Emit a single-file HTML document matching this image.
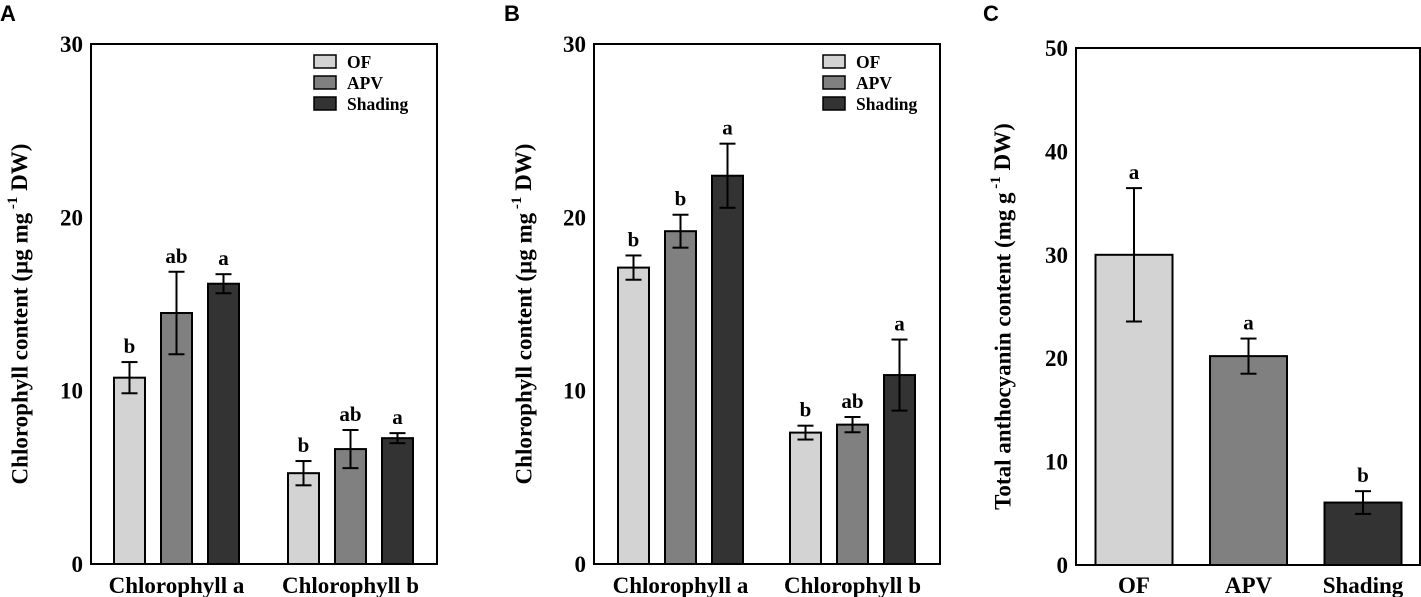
<!DOCTYPE html>
<html><head><meta charset="utf-8">
<style>
html,body{margin:0;padding:0;background:#fff;}
svg{display:block;font-family:"Liberation Serif",serif;font-weight:bold;}
.pl{font-family:"Liberation Sans",sans-serif;font-weight:bold;font-size:22px;}
</style></head>
<body>
<svg id="fig" width="1421" height="597" viewBox="0 0 1421 597"></svg>
<script>
// Panel A data
const aCategories = ["Chlorophyll a", "Chlorophyll b"];
const aOF = [10.75, 5.24];
const aOFerr = [0.9, 0.7];
const aAPV = [14.48, 6.63];
const aAPVerr = [2.38, 1.1];
const aShading = [16.17, 7.26];
const aShadingerr = [0.55, 0.29];
const aLetters = [["b","ab","a"],["b","ab","a"]];
// Panel B data
const bCategories = ["Chlorophyll a", "Chlorophyll b"];
const bOF = [17.1, 7.58];
const bOFerr = [0.7, 0.4];
const bAPV = [19.2, 8.04];
const bAPVerr = [0.95, 0.44];
const bShading = [22.4, 10.9];
const bShadingerr = [1.85, 2.05];
const bLetters = [["b","b","a"],["b","ab","a"]];
// Panel C data
const cCategories = ["OF", "APV", "Shading"];
const cValues = [30.0, 20.2, 6.04];
const cErrors = [6.45, 1.7, 1.1];
const cLetters = ["a","a","b"];
const yTicksAB = [0, 10, 20, 30];
const yTicksC = [0, 10, 20, 30, 40, 50];
const seriesNames = ["OF", "APV", "Shading"];
const fills = ["#d3d3d3", "#808080", "#333333"];

const NS = "http://www.w3.org/2000/svg";
const svg = document.getElementById("fig");
function mk(tag, attrs, parent, text) {
  const e = document.createElementNS(NS, tag);
  for (const k in attrs) e.setAttribute(k, attrs[k]);
  if (text !== undefined) e.textContent = text;
  (parent || svg).appendChild(e);
  return e;
}

function axes(g, x0, x1, y0, y1, ymax, ticks, titleX, titleText, yScale) {
  const frame = mk("rect", {x:x0, y:y0, width:x1-x0, height:y1-y0, fill:"none", stroke:"#000", "stroke-width":2}, g);
  
  
  ticks.forEach(t => {
    const tl = mk("text", {x:x0-8, y:yScale(t)+8, "text-anchor":"end", "font-size":23}, g, String(t));
    
    
  });
  const cy = (y0 + y1) / 2 + 10;
  const tt = mk("text", {x:titleX, y:cy, transform:`rotate(-90 ${titleX} ${cy})`, "text-anchor":"middle", "font-size":23, "dominant-baseline":"middle"}, g);
  
  
  tt.appendChild(document.createTextNode(titleText[0]));
  mk("tspan", {"font-size":15, dy:-8}, tt, " -1");
  mk("tspan", {dy:8}, tt, " " + titleText[1]);
}

function bar(g, cx, w, v, e, fill, letter, yScale, name) {
  const top = yScale(v), base = yScale(0);
  const r = mk("rect", {x:cx-w/2, y:top, width:w, height:base-top, fill:fill, stroke:"#000", "stroke-width":2}, g);
  
  
  const eb = mk("g", {stroke:"#000", "stroke-width":2}, g);
  
  
  const yh = yScale(v+e), yl = yScale(v-e);
  mk("line", {x1:cx, x2:cx, y1:yh, y2:yl}, eb);
  mk("line", {x1:cx-8, x2:cx+8, y1:yh, y2:yh}, eb);
  mk("line", {x1:cx-8, x2:cx+8, y1:yl, y2:yl}, eb);
  const lt = mk("text", {x:cx, y:yh-9, "text-anchor":"middle", "font-size":21}, g, letter);
  
  
}

function groupedPanel(id, label, labelX, x0, x1, vals, errs, letters, cats, starts, legendX) {
  const g = mk("g", {});
  
  
  const y0 = 44, y1 = 564;
  const yScale = v => y1 - v / 30 * (y1 - y0);
  const pl = mk("text", {x:labelX, y:21, class:"pl"}, g, label);
  
  
  axes(g, x0, x1, y0, y1, 30, yTicksAB, labelX + 22, ["Chlorophyll content (µg mg", "DW)"], yScale);
  const w = 31, step = 47;
  cats.forEach((c, ci) => {
    for (let s = 0; s < 3; s++) {
      const cx = starts[ci] + w/2 + s*step;
      bar(g, cx, w, vals[s][ci], errs[s][ci], fills[s], letters[ci][s], yScale, 'bar-' + seriesNames[s].toLowerCase() + '-' + (ci===0?'a':'b'));
    }
    const xl = mk("text", {x:starts[ci] + w/2 + step, y:593, "text-anchor":"middle", "font-size":23}, g, c);
    
    
  });
  const lg = mk("g", {}, g);
  
  
  seriesNames.forEach((n, i) => {
    const yy = 55 + i*21;
    const sw = mk("rect", {x:legendX, y:yy, width:22, height:13, fill:fills[i], stroke:"#000", "stroke-width":1.5}, lg);
    
    
    const lt = mk("text", {x:legendX+33, y:yy+13, "font-size":17.5}, lg, n);
    
    
  });
}

groupedPanel("a", "A", 0, 91, 437, [aOF, aAPV, aShading], [aOFerr, aAPVerr, aShadingerr], aLetters, aCategories, [114, 288], 314);
groupedPanel("b", "B", 504, 594, 940, [bOF, bAPV, bShading], [bOFerr, bAPVerr, bShadingerr], bLetters, bCategories, [618, 790], 823);

// Panel C
(function(){
  const g = mk("g", {});
  
  
  const x0 = 1076, x1 = 1420, y0 = 48, y1 = 565;
  const yScale = v => y1 - v / 50 * (y1 - y0);
  const pl = mk("text", {x:983, y:21, class:"pl"}, g, "C");
  
  
  axes(g, x0, x1, y0, y1, 50, yTicksC, 1005, ["Total anthocyanin content (mg g", "DW)"], yScale);
  const w = 77, step = 114.5;
  cCategories.forEach((c, i) => {
    const cx = 1134 + i*step;
    bar(g, cx, w, cValues[i], cErrors[i], fills[i], cLetters[i], yScale, 'bar-' + c.toLowerCase());
    const xl = mk("text", {x:cx, y:593, "text-anchor":"middle", "font-size":23}, g, c);
    
    
  });
})();
</script>
</body></html>
